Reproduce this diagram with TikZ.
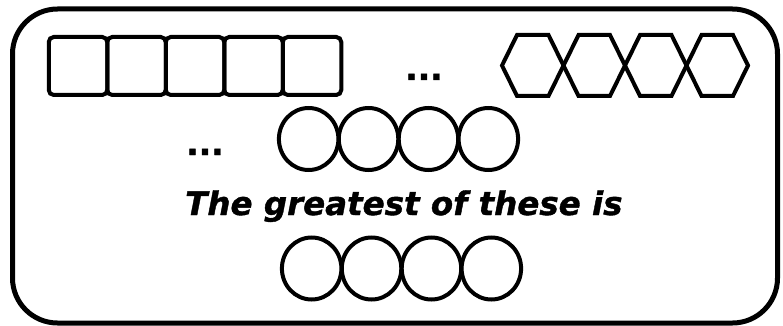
\documentclass[tikz,border=0pt]{standalone}
\usepackage{fontspec}
\setmainfont{DejaVu Sans}
\newfontfamily\heavyfont[FakeBold=1.2]{DejaVu Sans}
\usetikzlibrary{shapes.geometric}
\tikzset{
  frame/.style={draw, line width=5pt, rounded corners=45pt},
  sqbox/.style={draw, line width=4pt, rounded corners=5pt, minimum width=58.5pt, minimum height=58pt, inner sep=0pt, outer sep=0pt},
  hexline/.style={draw, line width=4pt, line join=miter},
  ovalbox/.style={draw, ellipse, line width=4pt, minimum width=59.5pt, minimum height=62pt, inner sep=0pt, outer sep=0pt},
  label/.style={inner sep=0pt, font=\fontsize{32.5}{36}\heavyfont\bfseries\itshape},
  dots/.style={inner sep=0pt, font=\fontsize{33}{36}\heavyfont\bfseries}
}
\begin{document}
\begin{tikzpicture}[x=1pt, y=-1pt]
\useasboundingbox (0,0) rectangle (783,326);
\draw[frame] (12.5,9) rectangle (777.5,323);
% squares
\foreach \i in {0,...,4} {
  \node[sqbox] (sq\i) at ({78+58.5*\i},66) {};
}
% hexagons
\foreach \i in {0,...,3} {
  \pgfmathsetmacro{\xo}{502+61.5*\i}
  \draw[hexline] (\xo,65.5) -- ++(15,-30.5) -- ++(31.5,0) -- ++(15,30.5) -- ++(-15,30.5) -- ++(-31.5,0) -- cycle;
}
% middle ovals
\foreach \i in {0,...,3} {
  \node[ovalbox] (m\i) at ({308.65+59.9*\i},139) {};
}
% bottom ovals
\foreach \i in {0,...,3} {
  \node[ovalbox] (b\i) at ({311.65+59.9*\i},268.5) {};
}
\node[dots, anchor=base west] (d1) at (405,80) {...};
\node[dots, anchor=base west] (d2) at (186,155) {...};
\node[label, anchor=base west] (txt) at (185,215) {The greatest of these is};
\end{tikzpicture}
\end{document}
